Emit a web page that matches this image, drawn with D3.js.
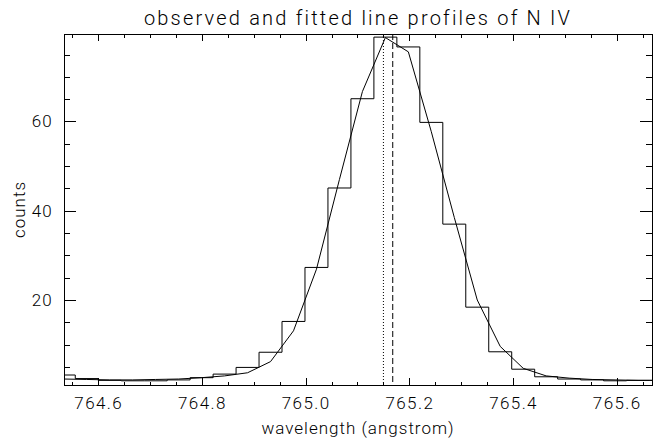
<!DOCTYPE html>
<html>
<head>
<meta charset="utf-8">
<script src="https://cdn.jsdelivr.net/npm/d3@7"></script>
<style>
  html, body { margin: 0; padding: 0; background: #fff; }
  svg text { font-family: Roboto, "DejaVu Sans", sans-serif; font-weight: 300; fill: #000; }
</style>
</head>
<body>
<svg id="chart" width="655" height="441"></svg>
<script>
// Wavelength of each detector pixel (bin centre), in angstrom
const wavelength = [
  764.5336, 764.5779, 764.6222, 764.6665, 764.7108, 764.7551, 764.7994,
  764.8437, 764.8880, 764.9323, 764.9766, 765.0209, 765.0652, 765.1095,
  765.1538, 765.1981, 765.2424, 765.2867, 765.3310, 765.3753, 765.4196,
  765.4639, 765.5082, 765.5525, 765.5968, 765.6411, 765.6854
];
// Observed counts per pixel
const observed = [
  3.2, 2.4, 2.0, 1.9, 1.9, 2.1, 2.6,
  3.4, 4.9, 8.3, 15.2, 27.3, 45.1, 65.1,
  78.9, 76.7, 59.8, 37.0, 18.4, 8.4, 4.5,
  2.8, 2.3, 2.1, 1.9, 2.0, 2.0
];
// Fitted profile evaluated at the same pixels
const fitted = [
  2.3, 2.2, 2.1, 2.1, 2.2, 2.3, 2.6,
  3.0, 3.7, 6.2, 13.1, 26.9, 47.0, 66.7,
  78.8, 75.6, 57.7, 38.5, 20.0, 9.6, 4.7,
  3.0, 2.5, 2.2, 2.1, 2.0, 2.0
];
// Reference wavelengths marked with vertical lines
const restWavelength = 765.150;   // dotted
const fitCentre = 765.168;        // dashed

const xTickValues = [764.6, 764.8, 765.0, 765.2, 765.4, 765.6];
const xTickLabels = ["764.6", "764.8", "765.0", "765.2", "765.4", "765.6"];
const yTickValues = [20, 40, 60];
const yTickLabels = ["20", "40", "60"];

const titleText = "observed and fitted line profiles of N IV";
const xTitle = "wavelength (angstrom)";
const yTitle = "counts";

const L = 64, R = 652, T = 34, B = 385;
const svg = d3.select("#chart");

const x = d3.scaleLinear().domain([764.534, 765.668]).range([L, R]);
const y = d3.scaleLinear().domain([0.96, 79.6]).range([B, T]);

svg.append("defs").append("clipPath").attr("id", "plotclip")
  .append("rect").attr("x", L).attr("y", T).attr("width", R - L).attr("height", B - T);

const plot = svg.append("g").attr("clip-path", "url(#plotclip)");

const pts = (vals) => wavelength.map((w, i) => [w, vals[i]]);

// histogram of the observed counts
plot.append("path")
  .attr("d", d3.line().x(d => x(d[0])).y(d => y(d[1])).curve(d3.curveStep)(pts(observed)))
  .attr("fill", "none").attr("stroke", "#000").attr("stroke-width", 1);

// fitted profile
plot.append("path")
  .attr("d", d3.line().x(d => x(d[0])).y(d => y(d[1]))(pts(fitted)))
  .attr("fill", "none").attr("stroke", "#000").attr("stroke-width", 1);

// reference lines
plot.append("line")
  .attr("x1", x(restWavelength)).attr("x2", x(restWavelength))
  .attr("y1", T).attr("y2", B)
  .attr("stroke", "#000").attr("stroke-width", 1).attr("stroke-dasharray", "1,2");
plot.append("line")
  .attr("x1", x(fitCentre)).attr("x2", x(fitCentre))
  .attr("y1", T).attr("y2", B)
  .attr("stroke", "#000").attr("stroke-width", 1).attr("stroke-dasharray", "6,3");

// axes with inward ticks
const xMinor = d3.range(764.55, 765.67, 0.05).filter(v => xTickValues.every(t => Math.abs(t - v) > 1e-6));
const yMinor = d3.range(5, 80, 5).filter(v => yTickValues.indexOf(v) < 0);

function styleAxis(g) {
  g.select(".domain").remove();
  g.selectAll("line").attr("stroke", "#000").attr("shape-rendering", "crispEdges");
}

svg.append("g").attr("transform", `translate(0,${B})`)
  .call(d3.axisBottom(x).tickValues(xTickValues).tickFormat((d, i) => xTickLabels[i])
    .tickSize(-7).tickPadding(12))
  .call(styleAxis)
  .call(g => g.selectAll("text").attr("font-size", 17).attr("letter-spacing", 1.4).attr("fill", "#000"));
svg.append("g").attr("transform", `translate(0,${B})`)
  .call(d3.axisBottom(x).tickValues(xMinor).tickFormat("").tickSize(-3.5))
  .call(styleAxis);
svg.append("g").attr("transform", `translate(0,${T})`)
  .call(d3.axisTop(x).tickValues(xTickValues).tickFormat("").tickSize(-7))
  .call(styleAxis);
svg.append("g").attr("transform", `translate(0,${T})`)
  .call(d3.axisTop(x).tickValues(xMinor).tickFormat("").tickSize(-3.5))
  .call(styleAxis);

svg.append("g").attr("transform", `translate(${L},0)`)
  .call(d3.axisLeft(y).tickValues(yTickValues).tickFormat((d, i) => yTickLabels[i])
    .tickSize(-12).tickPadding(11))
  .call(styleAxis)
  .call(g => g.selectAll("text").attr("font-size", 17).attr("letter-spacing", 1.2).attr("fill", "#000"));
svg.append("g").attr("transform", `translate(${L},0)`)
  .call(d3.axisLeft(y).tickValues(yMinor).tickFormat("").tickSize(-6))
  .call(styleAxis);
svg.append("g").attr("transform", `translate(${R},0)`)
  .call(d3.axisRight(y).tickValues(yTickValues).tickFormat("").tickSize(-12))
  .call(styleAxis);
svg.append("g").attr("transform", `translate(${R},0)`)
  .call(d3.axisRight(y).tickValues(yMinor).tickFormat("").tickSize(-6))
  .call(styleAxis);

// frame
svg.append("rect").attr("x", L).attr("y", T).attr("width", R - L).attr("height", B - T)
  .attr("fill", "none").attr("stroke", "#000").attr("stroke-width", 1)
  .attr("shape-rendering", "crispEdges");

// titles
svg.append("text").attr("x", (L + R) / 2).attr("y", 25)
  .attr("text-anchor", "middle").attr("font-size", 20).attr("letter-spacing", 2.2)
  .text(titleText);
svg.append("text").attr("x", (L + R) / 2).attr("y", 434)
  .attr("text-anchor", "middle").attr("font-size", 17).attr("letter-spacing", 1.0)
  .text(xTitle);
svg.append("text").attr("transform", `translate(25,${(T + B) / 2}) rotate(-90)`)
  .attr("text-anchor", "middle").attr("font-size", 17).attr("letter-spacing", 1.0)
  .text(yTitle);
</script>
</body>
</html>
